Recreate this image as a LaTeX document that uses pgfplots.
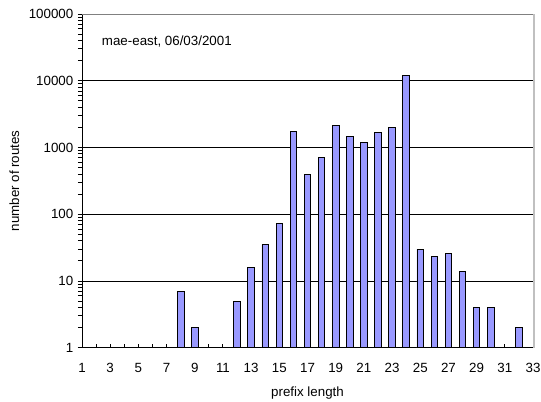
\documentclass[border=0pt]{standalone}
\usepackage{fontspec}
\setmainfont{Liberation Sans}
\usepackage{pgfplots}
\pgfplotsset{compat=1.18}
\definecolor{barblue}{RGB}{153,153,255}
\definecolor{framegray}{RGB}{128,128,128}
\definecolor{edgegray}{RGB}{192,192,192}

\begin{document}
\fontsize{10}{12}\selectfont
\begin{tikzpicture}
\path[use as bounding box] (-61.5pt,-40pt) rectangle (344.25pt,260.8pt);
\begin{axis}[
  at={(0,0)}, anchor=south west,
  scale only axis, width=338.25pt, height=250.28pt,
  ymode=log, ymin=1, ymax=100000,
  xmin=1, xmax=33,
  xtick={1,3,...,33}, minor xtick={2,4,...,32},
  ytick={1,10,100,1000,10000,100000},
  log ticks with fixed point,
  /pgf/number format/assume math mode=true,
  /pgf/number format/1000 sep={},
  axis x line*=bottom, axis y line*=left,
  axis line style={-, black, line width=0.75pt},
  xtick align=inside, ytick align=outside,
  major tick length=3pt, minor tick length=3pt,
  tick style={black, line width=0.75pt},
  ymajorgrids, major grid style={black, line width=0.7pt},
  xticklabel style={yshift=-7.9pt},
  xlabel={prefix length}, ylabel={number of routes},
  xlabel style={at={(axis description cs:0.5,-0.1357)}, anchor=center},
  ylabel style={at={(axis description cs:-0.1497,0.5)}, anchor=center},
  clip=false,
]
  \addplot[ybar, bar width=4.9pt, fill=barblue, draw=black, line width=0.6pt]
    coordinates {(8,7) (9,2) (12,5) (13,16) (14,35) (15,73) (16,1730)
      (17,398) (18,716) (19,2130) (20,1456) (21,1200) (22,1698) (23,1995)
      (24,11840) (25,30) (26,23) (27,26) (28,14) (29,4) (30,4) (32,2)};
  \draw[framegray, line width=0.75pt] (rel axis cs:0,1) -- (rel axis cs:1,1);
  \draw[edgegray, line width=1.5pt] ([xshift=0.75pt]rel axis cs:1,0) -- ([xshift=0.75pt]rel axis cs:1,1);
  \node[anchor=west, inner sep=0pt] at (rel axis cs:0.0437,0.917) {mae-east, 06/03/2001};
\end{axis}
\end{tikzpicture}
\end{document}
